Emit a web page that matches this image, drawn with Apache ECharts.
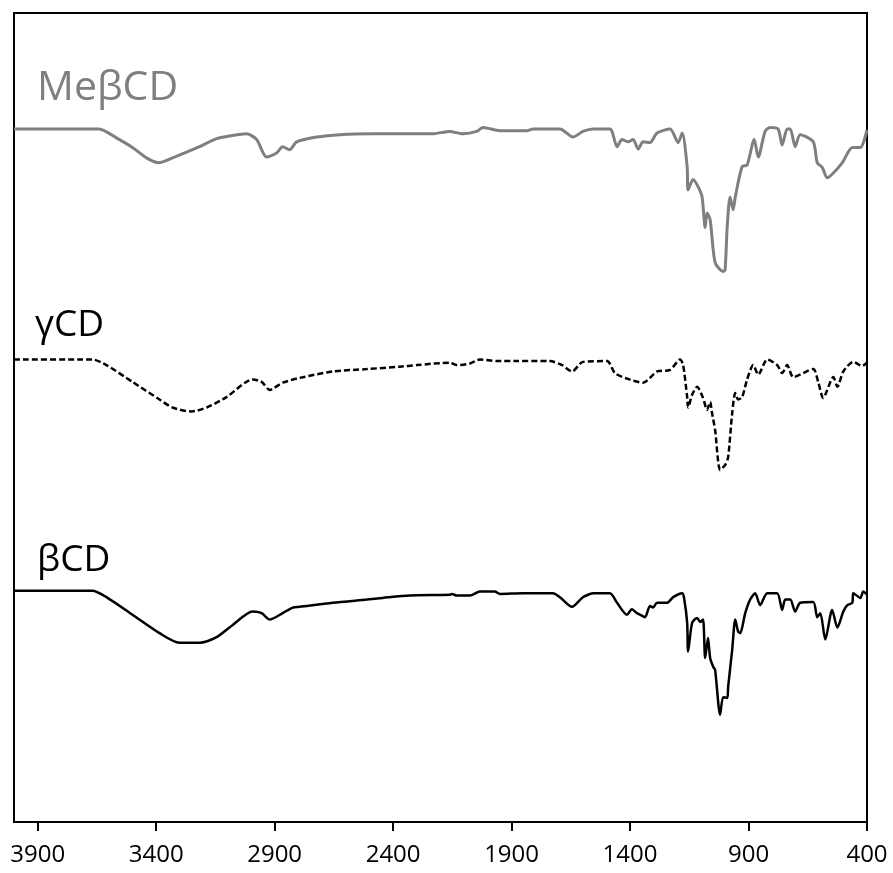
<!DOCTYPE html>
<html>
<head>
<meta charset="utf-8">
<title>FTIR spectra</title>
<script src="https://cdn.jsdelivr.net/npm/echarts@6/dist/echarts.min.js"></script>
<style>
  html, body { margin: 0; padding: 0; background: #fff; }
  #chart { width: 893px; height: 873px; }
</style>
</head>
<body>
<div id="chart"></div>
<script>
// wavenumber (cm-1) vs. transmittance (a.u., curves stacked with offsets)
const xTicks = [3900, 3400, 2900, 2400, 1900, 1400, 900, 400];

const mebcdData = [
  [4000, 86.6], [3675, 86.6], [3640, 86.6], [3568, 85.5], [3500, 84.3], [3441, 83.0],
  [3390, 82.4], [3331, 83.0], [3217, 84.4], [3145, 85.4], [3078, 85.8], [3018, 86.0],
  [2976, 85.3], [2934, 83.1], [2892, 83.6], [2866, 84.4], [2837, 84.0], [2807, 85.0],
  [2723, 85.6], [2625, 85.9], [2486, 86.0], [2237, 86.0], [2161, 86.3], [2106, 86.0],
  [2047, 86.3], [2021, 86.8], [1949, 86.4], [1835, 86.4], [1810, 86.6], [1696, 86.6],
  [1641, 85.6], [1599, 86.3], [1556, 86.6], [1485, 86.6], [1455, 84.4], [1434, 85.3],
  [1409, 85.0], [1387, 85.3], [1366, 84.1], [1345, 85.0], [1316, 84.9], [1286, 86.1],
  [1231, 86.6], [1197, 84.9], [1180, 86.1], [1159, 81.9], [1155, 79.0], [1134, 80.3],
  [1113, 79.4], [1096, 78.1], [1083, 74.3], [1075, 76.1], [1062, 75.3], [1041, 69.9],
  [1007, 68.8], [999, 69.0], [990, 74.4], [978, 78.1], [965, 76.5], [956, 78.1],
  [927, 81.9], [906, 82.1], [876, 85.3], [859, 83.1], [830, 86.3], [809, 86.8],
  [775, 86.6], [758, 84.6], [737, 86.6], [724, 86.6], [703, 84.4], [682, 85.9],
  [627, 85.0], [610, 82.4], [589, 81.8], [568, 80.5], [542, 81.1], [504, 82.4],
  [462, 84.3], [428, 84.3], [400, 86.5]
];

const gcdData = [
  [4000, 57.8], [3669, 57.8], [3610, 57.1], [3500, 55.0], [3386, 52.8], [3331, 51.8],
  [3251, 51.3], [3187, 51.8], [3103, 53.1], [2993, 55.3], [2955, 55.0], [2921, 54.0],
  [2866, 54.9], [2794, 55.5], [2655, 56.3], [2511, 56.6], [2372, 56.9], [2300, 57.1],
  [2161, 57.4], [2131, 57.1], [2076, 57.3], [2034, 57.8], [1962, 57.6], [1878, 57.6],
  [1738, 57.6], [1687, 57.1], [1645, 56.3], [1599, 57.5], [1497, 57.6], [1464, 56.1],
  [1413, 55.4], [1345, 54.9], [1286, 56.3], [1231, 56.5], [1189, 57.8], [1176, 57.1],
  [1159, 53.1], [1155, 51.8], [1138, 53.4], [1117, 54.4], [1092, 53.0], [1075, 51.5],
  [1062, 52.5], [1054, 51.1], [1041, 49.0], [1020, 44.0], [999, 44.6], [986, 45.6],
  [969, 51.1], [956, 53.6], [944, 52.8], [927, 53.1], [906, 55.3], [880, 57.1],
  [859, 55.9], [821, 57.8], [779, 57.1], [758, 56.1], [737, 57.1], [711, 55.6],
  [627, 56.6], [606, 55.0], [585, 53.0], [542, 55.6], [525, 54.4], [500, 56.3],
  [458, 57.5], [420, 57.0], [400, 57.4]
];

const bcdData = [
  [4000, 28.9], [3669, 28.9], [3610, 28.1], [3500, 25.9], [3386, 23.6], [3302, 22.4],
  [3217, 22.4], [3145, 23.1], [3078, 24.6], [2993, 26.3], [2955, 26.1], [2921, 25.3],
  [2866, 26.1], [2824, 26.8], [2794, 26.9], [2655, 27.4], [2511, 27.8], [2444, 28.0],
  [2330, 28.3], [2161, 28.4], [2152, 28.5], [2131, 28.3], [2076, 28.3], [2034, 28.8],
  [1971, 28.8], [1949, 28.5], [1852, 28.6], [1725, 28.6], [1696, 28.1], [1645, 26.9],
  [1599, 28.1], [1569, 28.5], [1556, 28.6], [1485, 28.6], [1455, 27.4], [1413, 25.9],
  [1392, 26.6], [1371, 26.1], [1358, 25.9], [1337, 25.6], [1316, 27.0], [1303, 26.8],
  [1286, 27.4], [1244, 27.4], [1218, 28.1], [1180, 28.6], [1172, 28.0], [1159, 24.9],
  [1155, 21.3], [1138, 24.9], [1117, 25.5], [1104, 25.0], [1092, 25.3], [1083, 20.5],
  [1071, 23.0], [1062, 20.5], [1049, 19.4], [1041, 19.0], [1020, 13.4], [1007, 15.6],
  [990, 15.5], [986, 16.9], [969, 21.5], [956, 25.3], [944, 23.8], [935, 23.6],
  [914, 26.1], [893, 27.8], [872, 28.6], [851, 27.1], [821, 28.6], [779, 28.6],
  [758, 26.5], [745, 27.8], [724, 27.8], [703, 26.3], [682, 27.4], [627, 27.5],
  [610, 25.6], [597, 26.1], [576, 22.8], [547, 26.5], [525, 24.3], [500, 26.3],
  [483, 27.1], [462, 27.4], [458, 28.6], [428, 28.0], [416, 28.8], [400, 28.4]
];

const seriesNames = ["MeβCD", "γCD", "βCD"];

const chart = echarts.init(document.getElementById("chart"), null, { renderer: "canvas" });

const fontFamily = "'Open Sans', 'Noto Sans', sans-serif";

// shared look for the three spectra
const lineSeries = (name, data, lineStyle) => ({
  name,
  type: "line",
  data,
  showSymbol: false,
  smooth: 0.25,
  lineStyle
});

chart.setOption({
  animation: false,
  backgroundColor: "#fff",
  grid: {
    left: 14,
    right: 26,
    top: 13,
    bottom: 51,
    show: true,
    borderColor: "#000",
    borderWidth: 2
  },
  xAxis: {
    type: "value",
    inverse: true,
    min: 400,
    max: 4000,
    axisLine: { show: true, lineStyle: { color: "#000", width: 2 } },
    axisTick: {
      show: true,
      customValues: xTicks,
      length: 9,
      lineStyle: { color: "#000", width: 2 }
    },
    axisLabel: {
      customValues: xTicks,
      formatter: (v) => String(v),
      color: "#000",
      fontSize: 24,
      fontFamily: fontFamily,
      margin: 21
    },
    splitLine: { show: false }
  },
  yAxis: {
    type: "value",
    min: 0,
    max: 101.1,
    show: false,
    splitLine: { show: false }
  },
  series: [
    lineSeries(seriesNames[0], mebcdData, { color: "#7f7f7f", width: 3 }),
    lineSeries(seriesNames[1], gcdData, { color: "#000", width: 2.5, type: [6, 3] }),
    lineSeries(seriesNames[2], bcdData, { color: "#000", width: 2.5 })
  ],
  graphic: [
    {
      type: "text",
      left: 37,
      top: 68,
      style: { text: seriesNames[0], fill: "#7f7f7f", font: "41px " + fontFamily }
    },
    {
      type: "text",
      left: 35,
      top: 307,
      style: { text: seriesNames[1], fill: "#000", font: "37px " + fontFamily }
    },
    {
      type: "text",
      left: 37,
      top: 542,
      style: { text: seriesNames[2], fill: "#000", font: "37px " + fontFamily }
    }
  ]
});
</script>
</body>
</html>
